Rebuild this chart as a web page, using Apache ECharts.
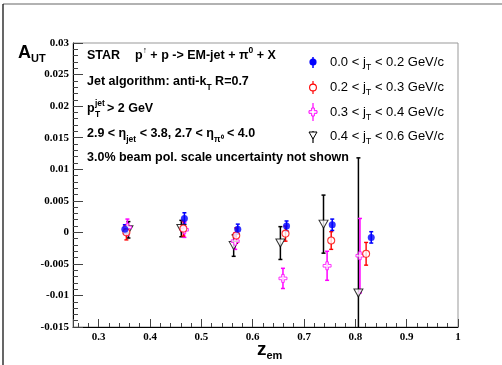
<!DOCTYPE html>
<html><head><meta charset="utf-8">
<script src="https://cdn.jsdelivr.net/npm/echarts@6/dist/echarts.min.js"></script>
<style>html,body{margin:0;padding:0;background:#fff}#c{width:502px;height:365px}</style>
</head><body><div id="c"></div>
<script>
// ---- data ----
const legendNames = ['0.0 < jT < 0.2 GeV/c', '0.2 < jT < 0.3 GeV/c', '0.3 < jT < 0.4 GeV/c', '0.4 < jT < 0.6 GeV/c'];
const blueX = [0.351, 0.467, 0.571, 0.666, 0.755, 0.831];
const blueY = [0.0005, 0.0022, 0.0005, 0.0010, 0.0012, -0.0008];
const blueE = [0.0007, 0.0009, 0.0008, 0.0008, 0.0009, 0.0009];
const redX = [0.354, 0.465, 0.568, 0.664, 0.753, 0.821];
const redY = [0.0000, 0.0006, -0.0005, -0.0002, -0.0013, -0.0034];
const redE = [0.0012, 0.0012, 0.0012, 0.0012, 0.0014, 0.0018];
const magX = [0.356, 0.467, 0.566, 0.659, 0.745, 0.809];
const magY = [0.0008, 0.0004, -0.0014, -0.0073, -0.0053, -0.0037];
const magE = [0.0013, 0.0012, 0.0013, 0.0016, 0.0023, 0.0059];
const blkX = [0.358, 0.461, 0.563, 0.654, 0.738, 0.806];
const blkY = [0.0004, 0.0006, -0.0021, -0.0017, 0.0013, -0.0096];
const blkE = [0.0013, 0.0013, 0.0017, 0.0026, 0.0046, 0.0214];

const SANS = '"Liberation Sans", Arial, Helvetica, sans-serif';
const SERIF = '"Liberation Serif", "Times New Roman", serif';
const crossPath = 'path://M-1.3,-4L1.3,-4L1.3,-1.3L4,-1.3L4,1.3L1.3,1.3L1.3,4L-1.3,4L-1.3,1.3L-4,1.3L-4,-1.3L-1.3,-1.3Z';

function errSeries(xs, ys, es, color, width) {
  return {
    type: 'custom',
    data: xs.map((x, i) => [x, ys[i] - es[i], ys[i] + es[i]]),
    encode: { x: 0, y: [1, 2] },
    z: 1,
    silent: true,
    renderItem: function (params, api) {
      const x = api.value(0);
      const lo = api.coord([x, api.value(1)]);
      const hi = api.coord([x, api.value(2)]);
      const cs = params.coordSys;
      const top = cs.y, bot = cs.y + cs.height;
      const y1 = Math.max(top, Math.min(bot, hi[1]));
      const y2 = Math.max(top, Math.min(bot, lo[1]));
      const st = { stroke: color, lineWidth: width };
      const ch = [{ type: 'line', shape: { x1: lo[0], y1: y1, x2: lo[0], y2: y2 }, style: st }];
      if (hi[1] >= top) ch.push({ type: 'line', shape: { x1: lo[0] - 2, y1: hi[1], x2: lo[0] + 2, y2: hi[1] }, style: st });
      if (lo[1] <= bot) ch.push({ type: 'line', shape: { x1: lo[0] - 2, y1: lo[1], x2: lo[0] + 2, y2: lo[1] }, style: st });
      return { type: 'group', children: ch };
    }
  };
}
function ptSeries(name, xs, ys, symbol, size, item, rot) {
  return {
    name: name, type: 'scatter', z: 3,
    data: xs.map((x, i) => [x, ys[i]]),
    symbol: symbol, symbolSize: size, symbolRotate: rot || 0,
    itemStyle: item
  };
}

const chart = echarts.init(document.getElementById('c'), null, { renderer: 'canvas' });
const main = { fontFamily: SANS, fontWeight: 'bold', fontSize: 12.5, lineHeight: 20, verticalAlign: 'middle', fill: '#000' };
const sub = { fontFamily: SANS, fontWeight: 'bold', fontSize: 8.5, lineHeight: 9, verticalAlign: 'bottom', fill: '#000' };
const sup = { fontFamily: SANS, fontWeight: 'bold', fontSize: 8.5, lineHeight: 9, verticalAlign: 'top', fill: '#000' };
const lmain = { fontFamily: SANS, fontSize: 13, lineHeight: 20, verticalAlign: 'middle', fill: '#000' };
const lsub = { fontFamily: SANS, fontSize: 9, lineHeight: 9, verticalAlign: 'bottom', fill: '#000' };

function txt(x, y, text, rich) {
  return { type: 'text', x: x, y: y, z: 10, style: { text: text, rich: rich, verticalAlign: 'middle', align: 'left' } };
}
const legendYs = [62, 87, 112, 136];
const legendG = [];
legendNames.forEach((n, i) => {
  const parts = n.split('jT');
  legendG.push(txt(330, legendYs[i], '{m|' + parts[0] + 'j}{s|T}{m|' + parts[1] + '}', { m: lmain, s: lsub }));
});
const LX = 313;
legendG.push(
  { type: 'line', shape: { x1: LX, y1: 57, x2: LX, y2: 68 }, style: { stroke: '#0000ff', lineWidth: 1.5 }, z: 10 },
  { type: 'circle', shape: { cx: LX, cy: 62, r: 3.6 }, style: { fill: '#0000ff' }, z: 11 },
  { type: 'line', shape: { x1: LX, y1: 81, x2: LX, y2: 94 }, style: { stroke: '#ff0000', lineWidth: 1.2 }, z: 10 },
  { type: 'circle', shape: { cx: LX, cy: 87.5, r: 3.4 }, style: { fill: '#fff', stroke: '#ff0000', lineWidth: 1.1 }, z: 11 },
  { type: 'line', shape: { x1: LX, y1: 103, x2: LX, y2: 121 }, style: { stroke: '#ff00ff', lineWidth: 1.2 }, z: 10 },
  { type: 'polygon', x: LX, y: 112, shape: { points: [[-1.3,-4],[1.3,-4],[1.3,-1.3],[4,-1.3],[4,1.3],[1.3,1.3],[1.3,4],[-1.3,4],[-1.3,1.3],[-4,1.3],[-4,-1.3],[-1.3,-1.3]] }, style: { fill: '#fff', stroke: '#ff00ff', lineWidth: 1 }, z: 11 },
  { type: 'line', shape: { x1: LX, y1: 131, x2: LX, y2: 143 }, style: { stroke: '#000', lineWidth: 1.2 }, z: 10 },
  { type: 'polygon', x: LX, y: 135, shape: { points: [[-4, -3], [4, -3], [0, 4]] }, style: { fill: '#fff', stroke: '#000', lineWidth: 1 }, z: 11 }
);

const graphics = [
  { type: 'line', shape: { x1: 3, y1: 4, x2: 502, y2: 4 }, style: { stroke: '#999', lineWidth: 1.5 }, z: 0 },
  { type: 'line', shape: { x1: 3, y1: 4, x2: 3, y2: 365 }, style: { stroke: '#000', lineWidth: 1.2 }, z: 0 },
  txt(87, 56, '{m|STAR}', { m: main }),
  txt(135, 56, '{m|p}{p|↑}{m| + p -> EM-jet + π}{p|0}{m| + X}', { m: main, p: sup }),
  txt(87, 82, '{m|Jet algorithm: anti-k}{s|T}{m| R=0.7}', { m: main, s: sub }),
  txt(87, 109, '{m|p}', { m: main }),
  txt(95, 104, '{s|jet}', { s: { fontFamily: SANS, fontWeight: 'bold', fontSize: 8.5, fill: '#000' } }),
  txt(95, 114.5, '{s|T}', { s: { fontFamily: SANS, fontWeight: 'bold', fontSize: 8.5, fill: '#000' } }),
  txt(107, 109, '{m|> 2 GeV}', { m: main }),
  txt(87, 134, '{m|2.9 < η}{s|jet}{m| < 3.8, 2.7 < η}{s|π⁰}{m| < 4.0}', { m: main, s: sub }),
  txt(87, 158, '{m|3.0% beam pol. scale uncertainty not shown}', { m: main }),
  txt(18, 53, '{a|A}{s|UT}', { a: { fontFamily: SANS, fontWeight: 'bold', fontSize: 18, lineHeight: 22, verticalAlign: 'middle', fill: '#000' }, s: { fontFamily: SANS, fontWeight: 'bold', fontSize: 11, lineHeight: 11, verticalAlign: 'bottom', fill: '#000' } }),
  txt(257, 350, '{a|z}{s|em}', { a: { fontFamily: SANS, fontWeight: 'bold', fontSize: 19, lineHeight: 22, verticalAlign: 'middle', fill: '#000' }, s: { fontFamily: SANS, fontWeight: 'bold', fontSize: 11, lineHeight: 11, verticalAlign: 'bottom', fill: '#000' } })
].concat(legendG);

const axisLbl = { color: '#000', fontFamily: SERIF, fontWeight: 'bold', fontSize: 11 };
const option = {
  animation: false,
  backgroundColor: '#fff',
  grid: { left: 73, right: 44, top: 43, bottom: 38, show: true, borderColor: '#999', borderWidth: 1, backgroundColor: 'transparent' },
  xAxis: {
    type: 'value', min: 0.25, max: 1, splitNumber: 7,
    axisLine: { onZero: false, lineStyle: { color: '#000', width: 1 } },
    axisTick: { inside: true, length: 8, lineStyle: { color: '#444' } },
    minorTick: { show: true, splitNumber: 5, length: 4, lineStyle: { color: '#444' } },
    splitLine: { show: false },
    axisLabel: Object.assign({ margin: 5, formatter: v => Math.abs(v - 0.25) < 1e-6 ? '' : String(parseFloat(v.toFixed(3))) }, axisLbl)
  },
  yAxis: {
    type: 'value', min: -0.015, max: 0.03, interval: 0.005,
    axisLine: { show: true, onZero: false, lineStyle: { color: '#000', width: 1 } },
    axisTick: { show: true, inside: true, length: 10, lineStyle: { color: '#444' } },
    minorTick: { show: true, splitNumber: 5, length: 5, lineStyle: { color: '#444' } },
    splitLine: { show: false },
    axisLabel: Object.assign({ margin: 4, formatter: v => String(parseFloat(v.toFixed(4))) }, axisLbl)
  },
  graphic: graphics,
  series: [
    errSeries(blkX, blkY, blkE, '#000', 1.5),
    errSeries(magX, magY, magE, '#ff00ff', 1.5),
    errSeries(redX, redY, redE, '#ff0000', 1.4),
    errSeries(blueX, blueY, blueE, '#0000ff', 1.5),
    ptSeries(legendNames[3], blkX, blkY, 'triangle', [9, 8], { color: '#fff', borderColor: '#000', borderWidth: 1 }, 180),
    ptSeries(legendNames[2], magX, magY, crossPath, 8, { color: '#fff', borderColor: '#ff00ff', borderWidth: 1 }),
    ptSeries(legendNames[1], redX, redY, 'circle', 7, { color: '#fff', borderColor: '#ff0000', borderWidth: 1.1 }),
    ptSeries(legendNames[0], blueX, blueY, 'circle', 7, { color: '#0000ff' })
  ]
};
chart.setOption(option);
</script>
</body></html>
